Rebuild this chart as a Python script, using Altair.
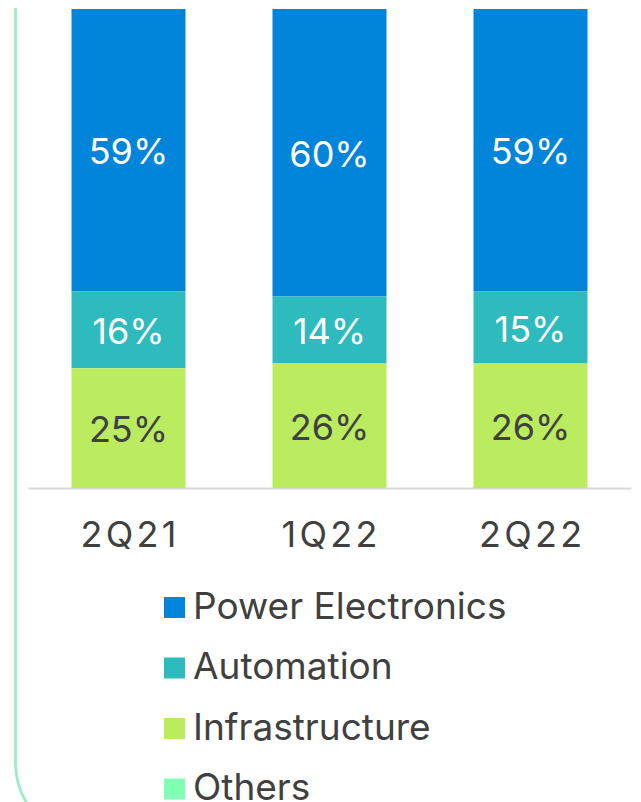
import altair as alt
import pandas as pd

quarters = ["2Q21", "1Q22", "2Q22"]
segments = ["Power Electronics", "Automation", "Infrastructure", "Others"]
power_electronics = [59, 60, 59]
automation = [16, 14, 15]
infrastructure = [25, 26, 26]
others = [0, 0, 0]
colors = ["#0085DB", "#2EBBBD", "#BBEB5F", "#80FFB4"]
stack_rank = {"Infrastructure": 0, "Automation": 1, "Power Electronics": 2, "Others": 3}

rows = []
for i, q in enumerate(quarters):
    for seg, vals in zip(segments, [power_electronics, automation, infrastructure, others]):
        rows.append({"quarter": q, "segment": seg, "value": vals[i], "rank": stack_rank[seg]})
df = pd.DataFrame(rows)

FONT = "Inter"
x_enc = alt.X(
    "quarter:N",
    sort=quarters,
    scale=alt.Scale(paddingInner=0.433, paddingOuter=0.2165),
    axis=alt.Axis(
        title=None, labelAngle=0, ticks=False, domainColor="#D9D9D9", domainWidth=2,
        labelFont=FONT, labelFontSize=36, labelColor="#404040", labelPadding=30,
        labelExpr="join(split(datum.label, ''), '\u200a')",
    ),
)

bars = alt.Chart(df).mark_bar(size=114).encode(
    x=x_enc,
    y=alt.Y("value:Q", stack="zero", scale=alt.Scale(domain=[0, 100], nice=False), axis=None),
    color=alt.Color(
        "segment:N",
        scale=alt.Scale(domain=segments, range=colors),
        legend=alt.Legend(
            title=None, orient="none", legendX=128, legendY=580, direction="vertical",
            symbolType="square", symbolSize=441, symbolStrokeWidth=0,
            labelFont=FONT, labelFontSize=37, labelColor="#404040",
            labelOffset=0, rowPadding=22.5, padding=0, labelLimit=500,
        ),
    ),
    order=alt.Order("rank:Q", sort="ascending"),
)

labels = alt.Chart(df).transform_filter(
    "datum.value > 0"
).transform_stack(
    stack="value", groupby=["quarter"], as_=["y0", "y1"], sort=[alt.SortField("rank", order="ascending")]
).transform_calculate(
    mid="(datum.y0 + datum.y1) / 2",
    txt="datum.value + '%'",
).mark_text(font=FONT, fontSize=36, baseline="middle", dy=3).encode(
    x=alt.X("quarter:N", sort=quarters),
    y=alt.Y("mid:Q", scale=alt.Scale(domain=[0, 100], nice=False)),
    text="txt:N",
    color=alt.condition("datum.segment == 'Infrastructure'", alt.value("#404040"), alt.value("#FFFFFF")),
)

frame_df = pd.DataFrame({"k": [0]})
green_frame = alt.Chart(frame_df).mark_rect(
    fill=None, stroke="#A3EBCB", strokeWidth=3, cornerRadius=80
).encode(
    x=alt.value(-12.5), x2=alt.value(700), y=alt.value(-100), y2=alt.value(833)
)

chart = alt.layer(green_frame, bars, labels).properties(
    width=603, height=479,
    padding={"left": 20, "top": 1, "right": 2, "bottom": 314},
    autosize=alt.AutoSizeParams(type="none"),
).configure(font=FONT).configure_view(stroke=None)

chart.save("out.html", embed_options={"renderer": "svg", "actions": False})
